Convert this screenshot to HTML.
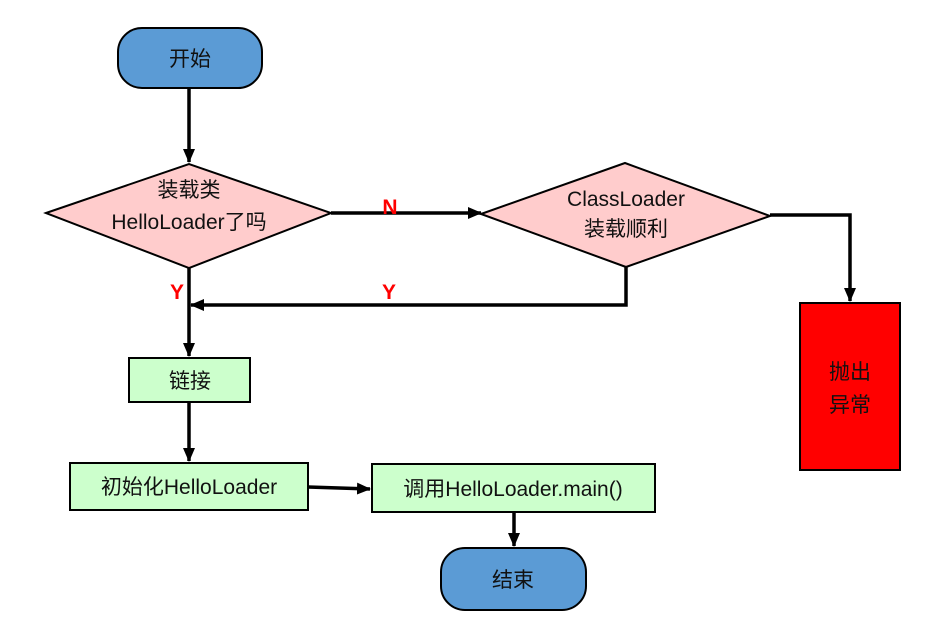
<!DOCTYPE html>
<html><head><meta charset="utf-8"><style>
html,body{margin:0;padding:0;background:#fff;}
svg text{font-family:"Liberation Sans","Noto Sans CJK SC",sans-serif;font-size:21px;fill:#111;}
</style></head><body>
<svg width="925" height="635" viewBox="0 0 925 635" xmlns="http://www.w3.org/2000/svg">
<defs><marker id="b" markerWidth="14" markerHeight="12" refX="13" refY="6" orient="auto" markerUnits="userSpaceOnUse"><path d="M0,0 L14,6 L0,12 z" fill="#000"/></marker></defs>
<g stroke="#000" stroke-width="2">
<rect x="118" y="28" width="144" height="60" rx="24" fill="#5b9bd5"/>
<polygon points="46,213 189,164 331,213 189,268" fill="#ffcccc"/>
<polygon points="481,214 625,163 770,216 626,267" fill="#ffcccc"/>
<rect x="800" y="303" width="100" height="167" fill="#ff0000"/>
<rect x="129" y="358" width="121" height="44" fill="#ccffcc"/>
<rect x="70" y="463" width="238" height="47" fill="#ccffcc"/>
<rect x="372" y="464" width="283" height="48" fill="#ccffcc"/>
<rect x="441" y="548" width="145" height="62" rx="24" fill="#5b9bd5"/>
</g>
<g stroke="#000" stroke-width="3.5" fill="none">
<line x1="189" y1="88" x2="189" y2="162" marker-end="url(#b)"/>
<line x1="331" y1="213" x2="481" y2="213" marker-end="url(#b)"/>
<polyline points="770,215 850,215 850,301" marker-end="url(#b)"/>
<polyline points="626,267 626,305 191,305" marker-end="url(#b)"/>
<line x1="189" y1="268" x2="189" y2="356" marker-end="url(#b)"/>
<line x1="189" y1="402" x2="189" y2="461" marker-end="url(#b)"/>
<line x1="308" y1="487" x2="370" y2="489" marker-end="url(#b)"/>
<line x1="514" y1="513" x2="514" y2="546" marker-end="url(#b)"/>
</g>
<text x="190" y="66" text-anchor="middle">开始</text>
<text x="189" y="197" text-anchor="middle">装载类</text>
<text x="189" y="229" text-anchor="middle">HelloLoader了吗</text>
<text x="626" y="206" text-anchor="middle">ClassLoader</text>
<text x="626" y="236" text-anchor="middle">装载顺利</text>
<text x="850" y="379" text-anchor="middle">抛出</text>
<text x="850" y="412" text-anchor="middle">异常</text>
<text x="190" y="388" text-anchor="middle">链接</text>
<text x="189" y="494" text-anchor="middle">初始化HelloLoader</text>
<text x="513" y="496" text-anchor="middle">调用HelloLoader.main()</text>
<text x="513" y="587" text-anchor="middle">结束</text>
<text x="390" y="214" text-anchor="middle" style="fill:#ff0000;font-weight:bold">N</text>
<text x="389" y="299" text-anchor="middle" style="fill:#ff0000;font-weight:bold">Y</text>
<text x="177" y="299" text-anchor="middle" style="fill:#ff0000;font-weight:bold">Y</text>
</svg>
</body></html>
